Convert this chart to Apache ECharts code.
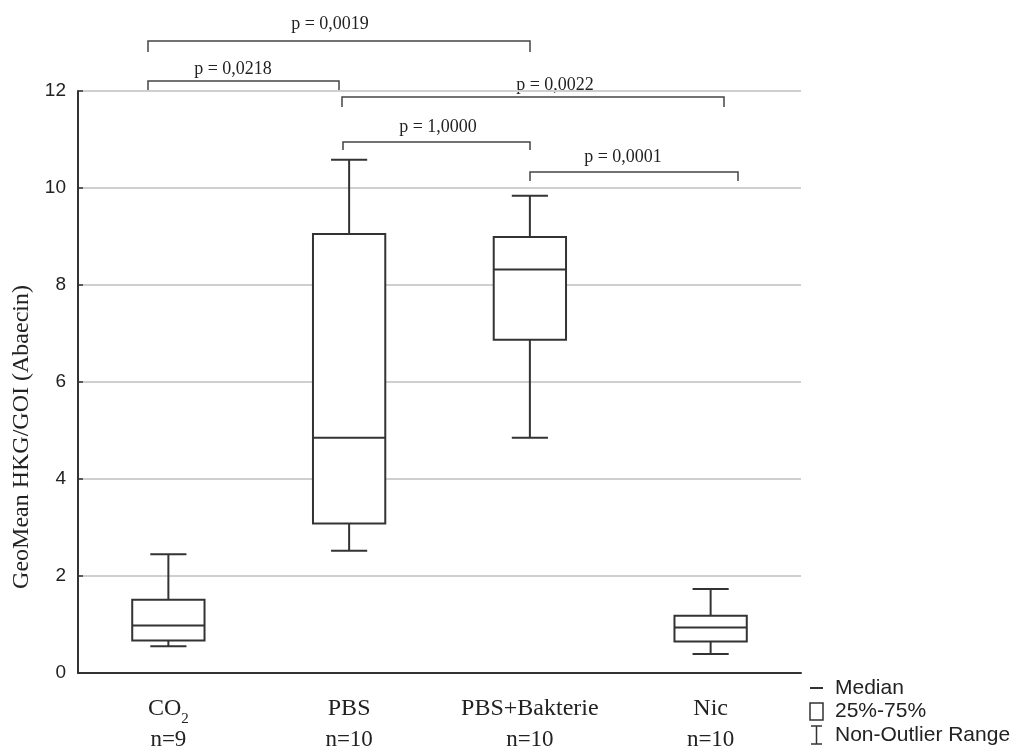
<!DOCTYPE html>
<html>
<head>
<meta charset="utf-8">
<script src="https://cdn.jsdelivr.net/npm/echarts@6/dist/echarts.min.js"></script>
<style>html,body{margin:0;padding:0;background:#fff;}#c{width:1017px;height:747px;}</style>
</head>
<body>
<div id="c"></div>
<script>
// ---- data ----
var categories = ['CO2', 'PBS', 'PBS+Bakterie', 'Nic'];
var nCounts = [9, 10, 10, 10];
var whiskerLow = [0.55, 2.52, 4.85, 0.39];
var q1 = [0.67, 3.08, 6.87, 0.65];
var median = [0.98, 4.85, 8.32, 0.94];
var q3 = [1.51, 9.05, 8.99, 1.18];
var whiskerHigh = [2.45, 10.58, 9.84, 1.73];
var yTicks = [0, 2, 4, 6, 8, 10, 12];
var pValues = ['p = 0,0019', 'p = 0,0218', 'p = 0,0022', 'p = 1,0000', 'p = 0,0001'];
var legendLabels = ['Median', '25%-75%', 'Non-Outlier Range'];
var yName = 'GeoMean HKG/GOI (Abaecin)';

// ---- layout (pixels) ----
var bracketLayout = [
  {x1: 148, x2: 530, y: 41, leg: 11, tx: 330, ty: 24},
  {x1: 148, x2: 339, y: 81, leg: 10, tx: 233, ty: 69},
  {x1: 342, x2: 724, y: 97, leg: 10, tx: 555, ty: 85},
  {x1: 343, x2: 530, y: 142, leg: 8, tx: 438, ty: 127},
  {x1: 530, x2: 738, y: 172, leg: 9, tx: 623, ty: 157}
];

var boxData = categories.map(function (c, i) {
  return [i, whiskerLow[i], q1[i], median[i], q3[i], whiskerHigh[i]];
});

var lineColor = '#333';
var serif = '"Liberation Serif", "Times New Roman", serif';
var sans = '"Liberation Sans", Arial, sans-serif';
var chart = echarts.init(document.getElementById('c'), null, {renderer: 'canvas'});

var graphics = [];
bracketLayout.forEach(function (b, i) {
  graphics.push({
    type: 'polyline',
    shape: {points: [[b.x1, b.y + b.leg], [b.x1, b.y], [b.x2, b.y], [b.x2, b.y + b.leg]]},
    style: {stroke: '#444', lineWidth: 1.5, fill: null}
  });
  graphics.push({
    type: 'text', x: b.tx, y: b.ty,
    style: {text: pValues[i], font: '18px ' + serif, fill: '#222', align: 'center', verticalAlign: 'middle'}
  });
});
// y axis name
graphics.push({
  type: 'text', x: 22, y: 437, rotation: Math.PI / 2,
  style: {text: yName, font: '24px ' + serif, fill: '#222', align: 'center', verticalAlign: 'middle'}
});
// legend
var lgX = 810, lgTextX = 835;
var lgY = [688, 711, 735];
graphics.push({type: 'line', shape: {x1: lgX, y1: lgY[0], x2: lgX + 13, y2: lgY[0]}, style: {stroke: lineColor, lineWidth: 2}});
graphics.push({type: 'rect', shape: {x: lgX, y: lgY[1] - 8, width: 13, height: 17}, style: {stroke: lineColor, lineWidth: 1.5, fill: '#fff'}});
graphics.push({type: 'polyline', shape: {points: [[lgX + 1, lgY[2] - 9], [lgX + 12, lgY[2] - 9]]}, style: {stroke: lineColor, lineWidth: 1.5, fill: null}});
graphics.push({type: 'polyline', shape: {points: [[lgX + 6.5, lgY[2] - 9], [lgX + 6.5, lgY[2] + 9]]}, style: {stroke: lineColor, lineWidth: 1.5, fill: null}});
graphics.push({type: 'polyline', shape: {points: [[lgX + 1, lgY[2] + 9], [lgX + 12, lgY[2] + 9]]}, style: {stroke: lineColor, lineWidth: 1.5, fill: null}});
legendLabels.forEach(function (t, i) {
  graphics.push({
    type: 'text', x: lgTextX, y: lgY[i],
    style: {text: t, font: '21px ' + sans, fill: '#222', align: 'left', verticalAlign: 'middle'}
  });
});

var option = {
  animation: false,
  backgroundColor: '#fff',
  grid: {left: 78, right: 216, top: 91, bottom: 74, containLabel: false, outerBoundsMode: 'none'},
  xAxis: {
    type: 'category',
    data: categories,
    boundaryGap: true,
    axisLine: {lineStyle: {color: lineColor, width: 2}},
    axisTick: {inside: true, length: 5, alignWithLabel: true, lineStyle: {color: lineColor, width: 2}},
    axisLabel: {
      margin: 21,
      interval: 0,
      formatter: function (v, i) {
        var m = v.match(/^(.*?)(\d+)$/);
        var top = m ? '{a|' + m[1] + '}{s|' + m[2] + '}' : '{a|' + v + '}';
        return top + '\n{n|n=' + nCounts[i] + '}';
      },
      rich: {
        a: {fontFamily: serif, fontSize: 24, color: '#222', lineHeight: 30},
        s: {fontFamily: serif, fontSize: 15, color: '#222', lineHeight: 15, verticalAlign: 'bottom', padding: [0, 0, -3, 0]},
        n: {fontFamily: serif, fontSize: 23, color: '#222', lineHeight: 31}
      }
    },
    splitLine: {show: false}
  },
  yAxis: {
    type: 'value',
    min: 0, max: 12, interval: 2,
    axisLine: {show: true, lineStyle: {color: lineColor, width: 2}},
    axisTick: {show: true, inside: true, length: 5, lineStyle: {color: lineColor, width: 1.5}},
    axisLabel: {
      margin: 12,
      fontFamily: sans, fontSize: 19, color: '#222',
      customValues: yTicks
    },
    splitLine: {show: true, lineStyle: {color: '#cfcfcf', width: 2}}
  },
  series: [{
    type: 'custom',
    data: boxData,
    encode: {x: 0, y: [1, 2, 3, 4, 5]},
    renderItem: function (params, api) {
      var idx = api.value(0);
      var lo = api.coord([idx, api.value(1)]);
      var b1 = api.coord([idx, api.value(2)]);
      var md = api.coord([idx, api.value(3)]);
      var b3 = api.coord([idx, api.value(4)]);
      var hi = api.coord([idx, api.value(5)]);
      var bw = api.size([1, 0])[0] * 0.4;
      var cx = lo[0];
      var cap = bw / 2;
      var st = {stroke: lineColor, lineWidth: 2, fill: null};
      return {
        type: 'group',
        children: [
          {type: 'line', shape: {x1: cx, y1: hi[1], x2: cx, y2: b3[1]}, style: st},
          {type: 'line', shape: {x1: cx, y1: b1[1], x2: cx, y2: lo[1]}, style: st},
          {type: 'line', shape: {x1: cx - cap / 2, y1: hi[1], x2: cx + cap / 2, y2: hi[1]}, style: st},
          {type: 'line', shape: {x1: cx - cap / 2, y1: lo[1], x2: cx + cap / 2, y2: lo[1]}, style: st},
          {type: 'rect', shape: {x: cx - bw / 2, y: b3[1], width: bw, height: b1[1] - b3[1]}, style: {stroke: lineColor, lineWidth: 2, fill: '#fff'}},
          {type: 'line', shape: {x1: cx - bw / 2, y1: md[1], x2: cx + bw / 2, y2: md[1]}, style: st}
        ]
      };
    }
  }],
  graphic: graphics
};
chart.setOption(option);
</script>
</body>
</html>
